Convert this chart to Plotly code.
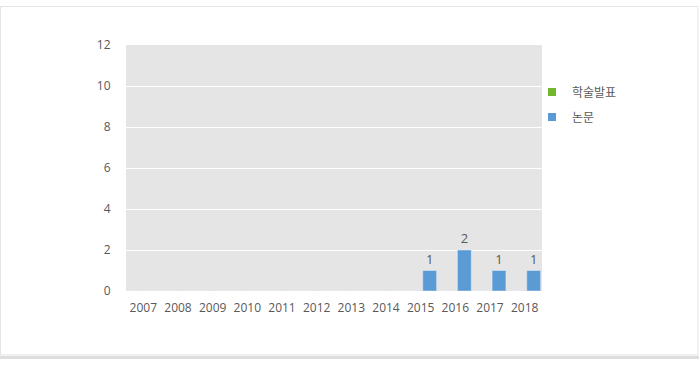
import plotly.graph_objects as go

years = ["2007", "2008", "2009", "2010", "2011", "2012", "2013", "2014", "2015", "2016", "2017", "2018"]
presentations = [0, 0, 0, 0, 0, 0, 0, 0, 0, 0, 0, 0]
papers = [0, 0, 0, 0, 0, 0, 0, 0, 1, 2, 1, 1]
series_names = ["학술발표", "논문"]
y_ticks = [0, 2, 4, 6, 8, 10, 12]

GREEN = "#74b72e"
BLUE = "#5b9bd5"
TXT = "#595959"
FONT = "Open Sans, Noto Sans CJK KR, sans-serif"

L, R, T, B = 126, 157, 45, 77
W, H = 699, 368
PW, PH = W - L - R, H - T - B

def px_x(p):
    return (p - L) / PW

def px_y(p):
    return (H - B - p) / PH

fig = go.Figure()
fig.add_trace(go.Bar(
    x=years, y=presentations, name=series_names[0], marker_color=GREEN,
    width=0.4, offset=-0.47, showlegend=False,
))
fig.add_trace(go.Bar(
    x=years, y=papers, name=series_names[1], marker_color=BLUE,
    width=0.4, offset=0.06, showlegend=False,
    text=[str(v) if v else None for v in papers],
    textposition="outside",
    textfont=dict(color=TXT, size=13, family=FONT), cliponaxis=False,
))
# legend entries
fig.add_trace(go.Scatter(x=[None], y=[None], mode="markers", name=series_names[0],
                         marker=dict(symbol="square", size=8, color=GREEN), legend="legend"))
fig.add_trace(go.Scatter(x=[None], y=[None], mode="markers", name=series_names[1],
                         marker=dict(symbol="square", size=8, color=BLUE), legend="legend2"))

legend_common = dict(font=dict(family=FONT, size=12, color=TXT), bgcolor="rgba(0,0,0,0)",
                     xanchor="left", yanchor="middle", itemwidth=30)

shapes = [
    dict(type="rect", xref="paper", yref="paper",
         x0=px_x(0.5), x1=px_x(698), y0=px_y(355), y1=px_y(6.5),
         line=dict(color="#e3e3e3", width=1), fillcolor="rgba(0,0,0,0)", layer="below"),
    dict(type="rect", xref="paper", yref="paper",
         x0=px_x(0), x1=px_x(699), y0=px_y(359), y1=px_y(356),
         line=dict(width=0), fillcolor="#dedede", layer="below"),
]

fig.update_layout(
    width=W, height=H,
    margin=dict(l=L, r=R, t=T, b=B, pad=0),
    paper_bgcolor="white", plot_bgcolor="#e5e5e5",
    barmode="overlay",
    font=dict(family=FONT, size=12, color=TXT),
    legend=dict(x=px_x(532), y=px_y(92), **legend_common),
    legend2=dict(x=px_x(532), y=px_y(117), **legend_common),
    shapes=shapes,
    xaxis=dict(type="category", showgrid=False, zeroline=False, showline=False,
               ticks="outside", ticklen=6, tickcolor="rgba(0,0,0,0)",
               tickfont=dict(family=FONT, size=12, color=TXT)),
    yaxis=dict(range=[0, 12], tickvals=y_ticks, showgrid=True, gridcolor="white", gridwidth=1,
               zeroline=False, showline=False,
               ticks="outside", ticklen=12, tickcolor="rgba(0,0,0,0)",
               tickfont=dict(family=FONT, size=12, color=TXT)),
)

fig.write_html("out.html", config={"displayModeBar": False},
               post_script="document.body.style.margin='0';document.body.style.overflow='hidden';")
